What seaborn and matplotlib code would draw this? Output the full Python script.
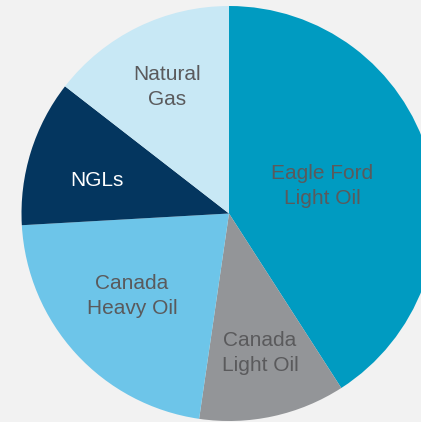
import matplotlib
matplotlib.use("Agg")
import matplotlib.pyplot as plt
import seaborn as sns

categories = ["Eagle Ford\nLight Oil", "Canada\nLight Oil", "Canada\nHeavy Oil", "NGLs", "Natural\nGas"]
shares = [40.9, 11.4, 21.8, 11.4, 14.5]

colors = ["#009bc1", "#939598", "#6dc5e9", "#04365f", "#c8e8f5"]
text_colors = ["#5a5a5c", "#5a5a5c", "#5a5a5c", "#ffffff", "#5a5a5c"]
# label centres in pixel coordinates of the 421x422 image
label_px = [(322, 186), (260, 353), (132, 296), (97, 180), (167, 87)]

sns.set_theme(style="white")
plt.rcParams['font.family'] = ['Liberation Sans', 'DejaVu Sans']

W, H = 421, 422
cx, cy, r = 229, 213.5, 207.5
fig = plt.figure(figsize=(W / 100, H / 100), dpi=100, facecolor="#f2f2f2")
ax = fig.add_axes([0, 0, 1, 1])
ax.set_facecolor("#f2f2f2")

ax.pie(shares, colors=colors, startangle=90, counterclock=False,
       wedgeprops=dict(linewidth=0, edgecolor="none"))

for lab, (px, py), tc in zip(categories, label_px, text_colors):
    ax.text((px - cx) / r, (cy - py) / r, lab, ha="center", va="center",
            fontsize=15, color=tc, linespacing=1.4)

ax.set_xlim(-cx / r, (W - cx) / r)
ax.set_ylim(-(H - cy) / r, cy / r)
ax.set_aspect("auto")
ax.axis("off")

fig.savefig("out.png", dpi=100, facecolor=fig.get_facecolor())
